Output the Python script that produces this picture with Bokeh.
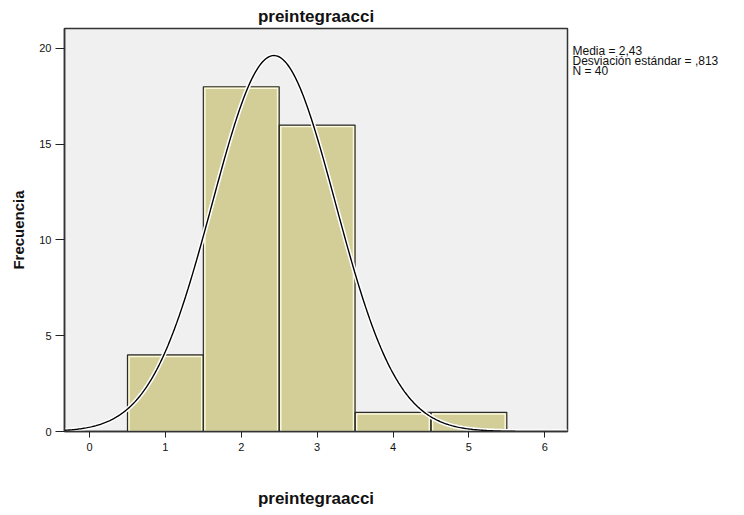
import numpy as np
from bokeh.plotting import figure
from bokeh.layouts import row
from bokeh.models import Range1d, FixedTicker
from bokeh.core.properties import value
from bokeh.embed import file_html
from bokeh.resources import INLINE

# ---- data ----
bin_centers = [1, 2, 3, 4, 5]
counts = [4, 18, 16, 1, 1]
bin_width = 1.0
mean_val = 2.43
sd_val = 0.813
n_val = 40
x_ticks = [0, 1, 2, 3, 4, 5, 6]
y_ticks = [0, 5, 10, 15, 20]
stats_lines = ["Media = 2,43", "Desviación estándar = ,813", "N = 40"]
title_text = "preintegraacci"
x_label = "preintegraacci"
y_label = "Frecuencia"

FONT = "Liberation Sans"

X0, X1 = -0.33, 6.30
Y0, Y1 = 0.0, 21.04
H = 510
W1 = 570
W2 = 736 - W1
BL, BR, BT, BB = 64, 3, 28, 76
FW = W1 - BL - BR
FH = H - BT - BB

p = figure(width=W1, height=H, output_backend="svg", toolbar_location=None,
           x_range=Range1d(X0, X1), y_range=Range1d(Y0, Y1),
           min_border_left=BL, min_border_right=BR, min_border_top=BT,
           min_border_bottom=BB)
p.background_fill_color = "#f0f0f0"
p.border_fill_color = "white"
p.outline_line_color = "#333333"
p.outline_line_width = 1.5
p.grid.visible = False

p.title.text = title_text
p.title.align = "center"
p.title.text_font = FONT
p.title.text_font_style = "bold"
p.title.text_font_size = "17px"
p.title.text_color = "#111111"
p.title.standoff = 6

left = [c - bin_width / 2 for c in bin_centers]
right = [c + bin_width / 2 for c in bin_centers]
zeros = [0] * len(counts)

# bar fill with light inner highlight
dx = 1.6 / FW * (X1 - X0)
dy = 1.6 / FH * (Y1 - Y0)
p.quad(left=left, right=right, bottom=zeros, top=counts,
       fill_color="#d3ce98", line_color=None)
p.quad(left=[l + dx for l in left], right=[r - dx for r in right],
       bottom=zeros, top=[c - dy for c in counts],
       fill_color=None, line_color="#fbf8dc", line_width=1.5)
p.quad(left=left, right=right, bottom=zeros, top=counts,
       fill_color=None, line_color="#2a2a2a", line_width=1.2)

# normal curve from displayed statistics
xs = np.linspace(X0, X1, 400)
ys = n_val * bin_width / (sd_val * np.sqrt(2 * np.pi)) * np.exp(-0.5 * ((xs - mean_val) / sd_val) ** 2)
p.line(xs, ys, line_color="white", line_width=4.5)
p.line(xs, ys, line_color="black", line_width=1.4)

# axes
for ax in (p.xaxis[0], p.yaxis[0]):
    ax.axis_line_color = "#333333"
    ax.axis_line_width = 1.5
    ax.major_tick_in = 0
    ax.minor_tick_line_color = None
    ax.major_tick_line_color = "#222222"
    ax.major_label_text_font = FONT
    ax.major_label_text_font_size = "11px"
    ax.major_label_text_color = "#111111"
    ax.axis_label_text_font = FONT
    ax.axis_label_text_font_style = "bold"
    ax.axis_label_text_color = "#111111"

p.xaxis.ticker = FixedTicker(ticks=x_ticks)
p.yaxis.ticker = FixedTicker(ticks=y_ticks)
p.xaxis.major_tick_out = 6
p.yaxis.major_tick_out = 9
p.xaxis.major_label_standoff = 5
p.yaxis.major_label_standoff = 4
p.xaxis.axis_label = x_label
p.yaxis.axis_label = y_label
p.xaxis.axis_label_text_font_size = "17px"
p.yaxis.axis_label_text_font_size = "15px"
p.xaxis.axis_label_standoff = 35
p.yaxis.axis_label_standoff = 9

# side panel with the statistics text (frame aligned with the main frame)
p2 = figure(width=W2, height=H, output_backend="svg", toolbar_location=None,
            x_range=Range1d(0, W2), y_range=Range1d(H - BB, BT),
            x_axis_location=None, y_axis_location=None,
            min_border_left=0, min_border_right=0,
            min_border_top=BT, min_border_bottom=BB)
p2.outline_line_color = None
p2.grid.visible = False
p2.background_fill_color = "white"
p2.border_fill_color = "white"
p2.text(x=[2] * len(stats_lines), y=[51 + 10 * i for i in range(len(stats_lines))],
        text=stats_lines, text_font=value(FONT), text_font_size="12px",
        text_color="#111111", text_align="left", text_baseline="alphabetic")

layout = row(p, p2)
open("out.html", "w").write(file_html(layout, INLINE))
